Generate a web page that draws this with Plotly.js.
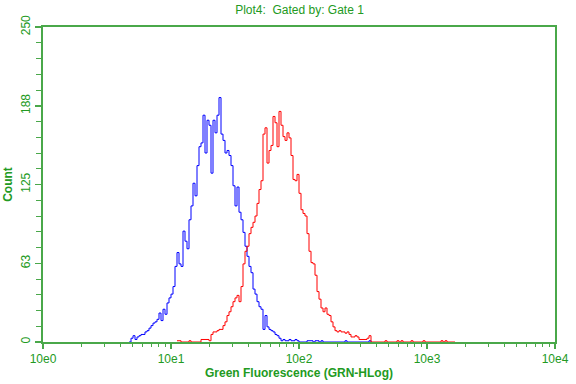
<!DOCTYPE html>
<html>
<head>
<meta charset="utf-8">
<script src="https://cdn.plot.ly/plotly-3.0.1.min.js"></script>
<style>html,body{margin:0;padding:0;background:#fff;}#chart{width:576px;height:384px;}</style>
</head>
<body>
<div id="chart"></div>
<script>
// Histogram: 256 channels over 4 log decades (64 channels per decade)
var channelsPerDecade = 64;
var blueStart = 43;
var blueCounts = [
  0,3,5,2,4,5,6,6,8,9,
  11,13,15,16,18,23,17,26,22,31,
  35,38,44,60,71,62,60,88,80,74,
  97,108,126,116,140,155,158,180,150,176,
  172,134,176,166,180,194,165,160,150,152,
  148,140,124,108,123,103,97,87,76,68,
  60,55,42,38,32,28,26,10,21,12,
  10,9,8,6,5,3,1,2,1,1,
  2,1,1,2,1,0,0,0,0,1,
  1,1,0,1,1,0,1,0,0,0,
  0,0,0,0,0,0,0,0,1,0,
  0,0,0,0,0,0,0,0,0,0,
  1,0
];
var redStart = 67;
var redCounts = [
  1,1,0,0,0,0,1,0,0,0,
  0,0,2,2,2,2,1,6,8,8,
  9,10,10,13,16,21,24,28,32,35,
  37,32,44,62,72,76,86,91,95,100,
  110,121,128,165,170,142,152,156,179,174,
  155,183,172,163,160,166,162,148,129,128,
  133,118,105,102,100,86,72,63,62,53,
  40,34,27,24,27,22,21,16,12,9,
  8,9,8,8,7,8,6,4,4,5,
  4,2,2,2,2,3,5,0,0,0,
  0,0,0,0,1,0,0,0,0,0,
  1,0,1,0,0,0,0,1,0,0,
  0,0,0,1,0,0,0,0,0,0,
  0,0,1,0,1,0,0,0,0,0
];
var xTickVals = [0,1,2,3,4];
var xTickText = ['10e0','10e1','10e2','10e3','10e4'];
var yTickVals = [0,62.5,125,187.5,250];
var yTickText = ['0','63','125','188','250'];

function chX(start, n){ var a=[]; for(var i=0;i<n;i++){ a.push((start+i)/channelsPerDecade); } return a; }

var minorX = [];
for (var d=0; d<4; d++) { for (var k=2; k<=9; k++) { minorX.push(d+Math.log10(k)); } }
var minorY = [];
for (var v=12.5; v<250; v+=12.5) { if (Math.abs((v/62.5)-Math.round(v/62.5))>1e-6) minorY.push(v); }

var green = '#4aa84a';
var textGreen = '#229a22';

var traces = [
  {x: chX(blueStart, blueCounts.length), y: blueCounts, type:'scatter', mode:'lines',
   line:{color:'#0000ff', width:1, shape:'hv'}, hoverinfo:'skip'},
  {x: chX(redStart, redCounts.length), y: redCounts, type:'scatter', mode:'lines',
   line:{color:'#ff0000', width:1, shape:'hv'}, hoverinfo:'skip'}
];

var layout = {
  width:576, height:384,
  margin:{l:43, r:21, t:27, b:42, pad:0},
  paper_bgcolor:'#ffffff', plot_bgcolor:'#ffffff',
  showlegend:false,
  font:{family:'Liberation Sans, Arial, sans-serif', color:textGreen, size:12},
  title:{text:'Plot4:  Gated by: Gate 1', x:0.52, xanchor:'center', y:0.975, yanchor:'middle',
         font:{size:12, color:textGreen, family:'Liberation Sans, Arial, sans-serif'}},
  xaxis:{
    type:'linear', range:[0,4], fixedrange:true,
    showline:true, linecolor:green, linewidth:2, mirror:true,
    showgrid:false, zeroline:false,
    tickmode:'array', tickvals:xTickVals, ticktext:xTickText,
    ticks:'outside', ticklen:5, tickwidth:1.5, tickcolor:green,
    tickfont:{size:12, color:textGreen},
    minor:{tickmode:'array', tickvals:minorX, ticks:'outside', ticklen:3, tickwidth:1, tickcolor:green, showgrid:false},
    title:{text:'<b>Green Fluorescence (GRN-HLog)</b>', standoff:1, font:{size:12, color:textGreen}}
  },
  yaxis:{
    type:'linear', range:[0,250], fixedrange:true,
    showline:true, linecolor:green, linewidth:2, mirror:true,
    showgrid:false, zeroline:false,
    tickmode:'array', tickvals:yTickVals, ticktext:yTickText, tickangle:-90,
    ticks:'outside', ticklen:6, tickwidth:1.5, tickcolor:green,
    tickfont:{size:12, color:textGreen},
    minor:{tickmode:'array', tickvals:minorY, ticks:'outside', ticklen:5, tickwidth:1, tickcolor:green, showgrid:false},
    title:{text:'<b>Count</b>', standoff:4, font:{size:12, color:textGreen}}
  }
};

Plotly.newPlot('chart', traces, layout, {displayModeBar:false, staticPlot:true});
</script>
</body>
</html>
